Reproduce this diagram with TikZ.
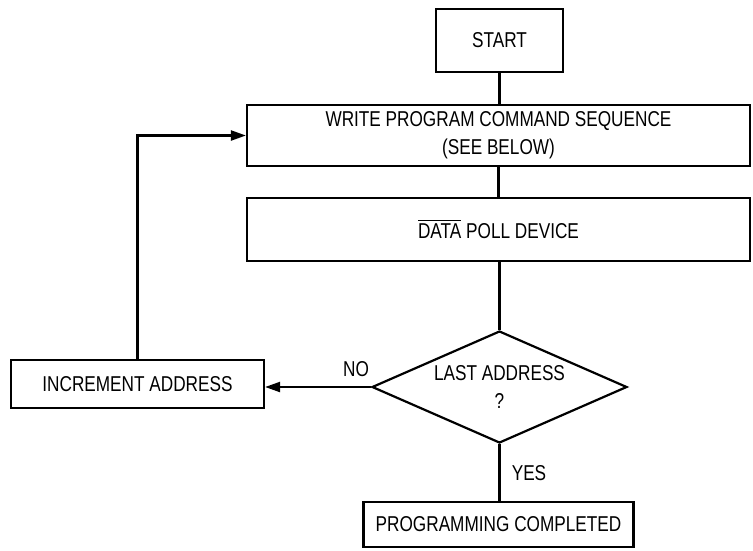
\documentclass[tikz,border=0pt]{standalone}
\usepackage{fontspec}
\setmainfont{Liberation Sans}[FakeStretch=0.8]
\usetikzlibrary{shapes.geometric,arrows.meta}
\newcommand{\barover}[1]{\setbox0\hbox{#1}\rlap{\raisebox{0.84em}{\rule{\wd0}{1.1pt}}}\box0\relax}
\begin{document}
\begin{tikzpicture}[x=1pt,y=-1pt,
  every node/.style={font=\fontsize{21.5}{28}\selectfont, align=center},
  box/.style={draw, line width=2.2pt, inner sep=0pt, rectangle},
  decision/.style={draw, line width=2.2pt, shape=diamond, inner sep=0pt, aspect=2.28},
  link/.style={line width=2.2pt},
  arrowlink/.style={line width=2.2pt, -{Triangle[length=15pt,width=10pt]}},
  lbl/.style={inner sep=0pt}]
\useasboundingbox (0,0) rectangle (753,550);
\node[box, minimum width=127pt, minimum height=63pt] (start) at (499.5,40.5) {START};
\node[box, minimum width=503pt, minimum height=61pt] (write) at (498.5,135.5) {WRITE PROGRAM COMMAND SEQUENCE\\(SEE BELOW)};
\node[box, minimum width=503pt, minimum height=63pt] (data) at (498.5,229.5) {\barover{DATA} POLL DEVICE};
\node[decision, minimum width=255pt, minimum height=112pt] (dia) at (499.5,387) {LAST ADDRESS\\?};
\node[box, minimum width=253pt, minimum height=48pt] (inc) at (137.5,384) {INCREMENT ADDRESS};
\node[box, minimum width=270pt, minimum height=45pt] (prog) at (498.5,524.5) {PROGRAMMING COMPLETED};
\node[lbl] (no) at (356,369) {NO};
\node[lbl] (yes) at (529,473) {YES};
\draw[link] (start.south) -- (start.south |- write.north);
\draw[link] (write.south -| data.north) -- (data.north);
\draw[link] (data.south -| dia.north) -- (dia.north);
\draw[link] (dia.south) -- (dia.south |- prog.north);
\draw[arrowlink] (dia.west) -- (dia.west -| inc.east);
\draw[arrowlink] (inc.north) |- (write.west);
\end{tikzpicture}
\end{document}
